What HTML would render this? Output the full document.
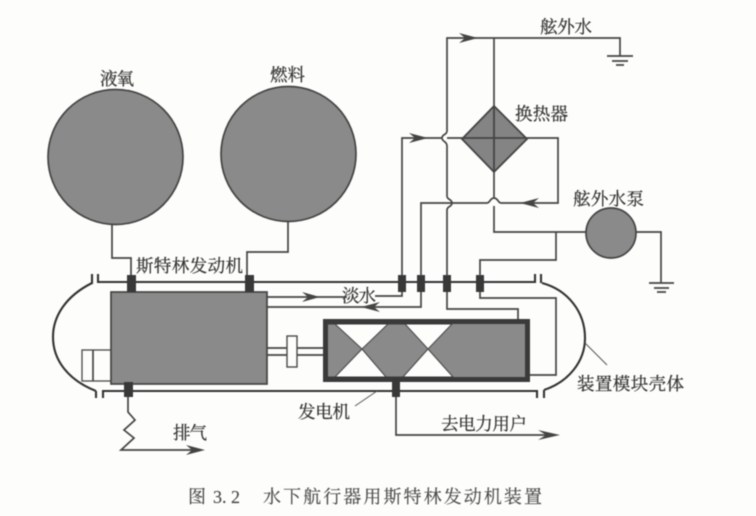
<!DOCTYPE html>
<html><head><meta charset="utf-8"><style>
html,body{margin:0;padding:0;background:#fdfdfb}
svg{display:block;filter:blur(.55px)}
text{font-family:"Liberation Serif","Noto Serif CJK SC",serif;fill:#333;font-size:17.5px;stroke:#333;stroke-width:.25}
.l{fill:none;stroke:#444;stroke-width:1.7}
.t{fill:none;stroke:#333;stroke-width:2.1}
.g{fill:#8a8a8a;stroke:#444;stroke-width:1.7}
.c{fill:#383838}
.a{fill:#444}
.cap{fill:#4a4a4a;stroke:#4a4a4a;stroke-width:.15;font-size:18px}
</style></head><body>
<svg width="756" height="516" viewBox="0 0 756 516" xmlns="http://www.w3.org/2000/svg">
<rect width="756" height="516" fill="#fdfdfb"/>
<circle class="g" cx="115.500" cy="157" r="67.500"/>
<circle class="g" cx="288.500" cy="154" r="67.500"/>
<path class="l" d="M112 224V258H131V276M288 221V252H247V276"/>
<path class="t" d="M92 274V284M98 274V282H535V274M541 274V283"/>
<path class="t" d="M96 398V391M103 398V391H537V398M544 398V390"/>
<path class="t" d="M92 283C66 296 53 316 53 337C53 360 68 380 96 391"/>
<path class="t" d="M542 283C568 290 585 312 585 338C585 362 568 382 544 390"/>
<rect class="g" x="111" y="292" width="156" height="92"/>
<rect x="82" y="350" width="29" height="31" fill="none" stroke="#4a4a4a" stroke-width="1.300"/>
<path class="l" stroke-width="1.300" d="M93 350V381"/>
<path class="l" d="M267 348H287M267 355H287M297 348H323M297 355H323"/>
<rect x="287" y="336" width="10" height="31" fill="#fdfdfb" stroke="#4a4a4a" stroke-width="1.400"/>
<rect x="325.500" y="321.500" width="202" height="58" fill="#8a8a8a" stroke="#3a3a3a" stroke-width="5"/>
<path fill="#fdfdfb" stroke="#4a4a4a" stroke-width="1.100" d="M335 324L362 349L388 324ZM405 324L428 349L452 324ZM335 377L362 349L386 377ZM403 377L428 349L453 377Z"/>
<path d="M328 324H452M328 377H453" stroke="#3a3a3a" stroke-width="1" fill="none"/>
<path class="l" d="M402 283V296H375M421 283V307H267M447 283V309H518V319M480 283V298H556V375H530"/>
<path class="l" d="M347 297H267M396 397V435H552"/>
<path class="l" d="M128 397V412L135 420L124 430L134 438L121 450H200"/>
<path class="a" d="M320 297L302 292L308 297L302 302ZM361 307L380 302L374 307L380 312ZM205 450L186 445L192 450L186 455ZM560 435L538 430L546 435L538 440Z"/>
<rect class="c" x="127" y="275" width="9" height="17"/>
<rect class="c" x="245" y="275" width="9" height="17"/>
<rect class="c" x="124" y="382" width="9" height="15"/>
<rect class="c" x="392" y="378" width="8" height="19"/>
<rect class="c" x="398" y="275" width="8" height="17"/>
<rect class="c" x="417" y="275" width="8" height="17"/>
<rect class="c" x="443" y="275" width="8" height="17"/>
<rect class="c" x="476" y="275" width="8" height="17"/>
<path class="l" d="M402 276V138H442M447 138H462"/>
<path class="l" d="M620 56V38H447V131C447 135 442 134 442 138C442 142 447 141 447 146V196C447 200 452 199 452 203C452 207 447 206 447 210V276M494 38V106"/>
<path class="l" d="M421 276V203H487C490 203 490 198 494 198C498 198 498 203 501 203H558V138H527"/>
<path class="l" d="M494 172V198M494 206V232H586M636 232H661V283M556 232V260H480V276"/>
<polygon points="494,106 527,139 494,172 462,139" fill="#848484" stroke="#444" stroke-width="1.800"/>
<path d="M462 138H527M494 106V172" stroke="#444" stroke-width="1.800" fill="none"/>
<circle class="g" cx="611" cy="233" r="25"/>
<path class="a" d="M478 38L459 33L465 38L459 43ZM428 138L409 133L415 138L409 143ZM520 203L539 198L533 203L539 208Z"/>
<path class="l" d="M607 56H633M612 61H628M616 65H624M649 283H674M654 288H669M657 292H666"/>
<path stroke="#555" stroke-width="1" fill="none" d="M585 343L607 365M377 391L355 406"/>
<text x="100" y="85" textLength="34" lengthAdjust="spacing">液氧</text>
<text x="270" y="81" textLength="35" lengthAdjust="spacing">燃料</text>
<text x="540" y="33" textLength="52" lengthAdjust="spacing">舷外水</text>
<text x="515" y="120" textLength="53" lengthAdjust="spacing">换热器</text>
<text x="573" y="205" textLength="71" lengthAdjust="spacing">舷外水泵</text>
<text x="136" y="272" textLength="107" lengthAdjust="spacing">斯特林发动机</text>
<text x="342" y="302" textLength="34" lengthAdjust="spacing">淡水</text>
<text x="298" y="418" textLength="52" lengthAdjust="spacing">发电机</text>
<text x="173" y="439" textLength="34" lengthAdjust="spacing">排气</text>
<text x="441" y="430" textLength="86" lengthAdjust="spacing">去电力用户</text>
<text x="577" y="390" textLength="107" lengthAdjust="spacing">装置模块壳体</text>
<text class="cap" x="188" y="503" style="fill:#4a4a4a">图</text>
<text class="cap" x="213" y="503" style="fill:#4a4a4a">3. 2</text>
<text class="cap" x="263" y="503" textLength="279" lengthAdjust="spacing" style="fill:#4a4a4a">水下航行器用斯特林发动机装置</text>
</svg>
</body></html>
